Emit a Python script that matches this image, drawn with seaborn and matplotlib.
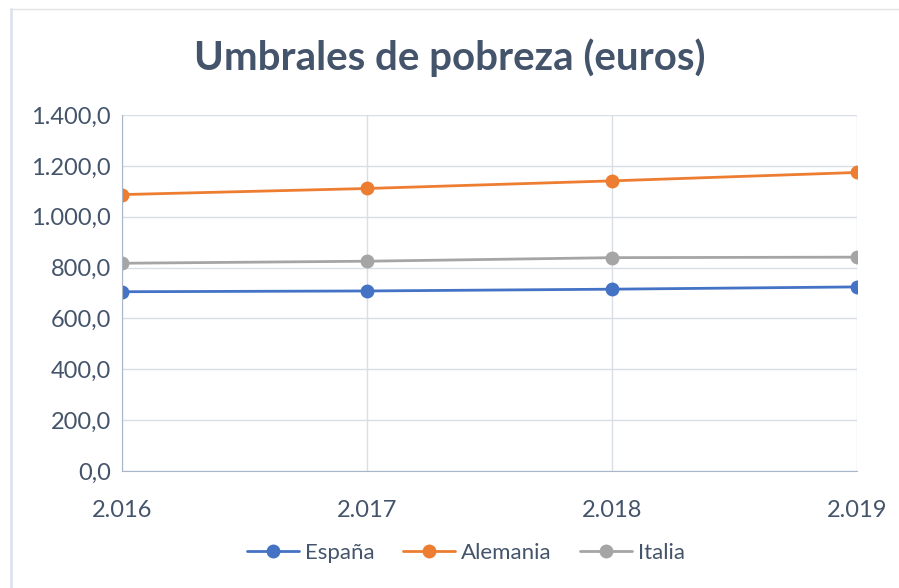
import pandas as pd
import seaborn as sns
import matplotlib.pyplot as plt
from matplotlib.ticker import FuncFormatter

# Data
years = [2016, 2017, 2018, 2019]
year_labels = ['2.016', '2.017', '2.018', '2.019']
espana = [705, 708, 715, 724]
alemania = [1087, 1111, 1141, 1174]
italia = [817, 825, 839, 841]
paises = ['España', 'Alemania', 'Italia']

df = pd.DataFrame({
    'year': years * 3,
    'value': espana + alemania + italia,
    'pais': ['España'] * 4 + ['Alemania'] * 4 + ['Italia'] * 4,
})

sns.set_style('white')
plt.rcParams['font.family'] = ['Lato', 'DejaVu Sans']

fig = plt.figure(figsize=(8.99, 5.88), dpi=100)
ax = fig.add_axes([122 / 899, 1 - 471 / 588, (857 - 122) / 899, (471 - 115) / 588])

palette = {'España': '#4472C4', 'Alemania': '#ED7D31', 'Italia': '#A5A5A5'}
sns.lineplot(data=df, x='year', y='value', hue='pais', palette=palette,
             marker='o', markersize=10, markeredgewidth=0, linewidth=2,
             ax=ax, legend=False)

ax.set_xlim(2016, 2019)
ax.set_ylim(0, 1400)
ax.set_xticks(years)
ax.set_xticklabels(year_labels)
ax.set_yticks(range(0, 1401, 200))
ax.yaxis.set_major_formatter(FuncFormatter(
    lambda v, p: f"{v:,.1f}".replace(',', 'X').replace('.', ',').replace('X', '.')))

ax.grid(True, color='#D9DEE6', linewidth=1)
for s in ['top', 'right']:
    ax.spines[s].set_visible(False)
ax.spines['left'].set_color('#A9B6C8')
ax.spines['bottom'].set_color('#A9B6C8')
ax.tick_params(axis='both', colors='#44546A', labelsize=17, length=0)
ax.tick_params(axis='y', pad=8)
ax.tick_params(axis='x', pad=21)
ax.set_xlabel('')
ax.set_ylabel('')

fig.text(0.5, 1 - 58 / 588, 'Umbrales de pobreza (euros)', ha='center', va='center',
         fontsize=29, fontweight='bold', color='#44546A')

# Legend
handles = [plt.Line2D([], [], color=palette[k], marker='o', markersize=10,
                      markeredgewidth=0, linewidth=2) for k in paises]
fig.legend(handles, paises, loc='center',
           bbox_to_anchor=(466 / 899, 1 - 553 / 588), ncol=3, frameon=False,
           fontsize=16, labelcolor='#44546A', handlelength=2.35, columnspacing=1.25,
           handletextpad=0.27)

# chart border (only left and top visible in the crop)
fig.add_artist(plt.Line2D([10.5 / 899, 10.5 / 899], [0, 1 - 9 / 588], color='#DCE3EE',
                          linewidth=2, transform=fig.transFigure))
fig.add_artist(plt.Line2D([10 / 899, 1], [1 - 9 / 588, 1 - 9 / 588], color='#E3E3E3',
                          linewidth=1, transform=fig.transFigure))

fig.savefig('out.png', dpi=100)
